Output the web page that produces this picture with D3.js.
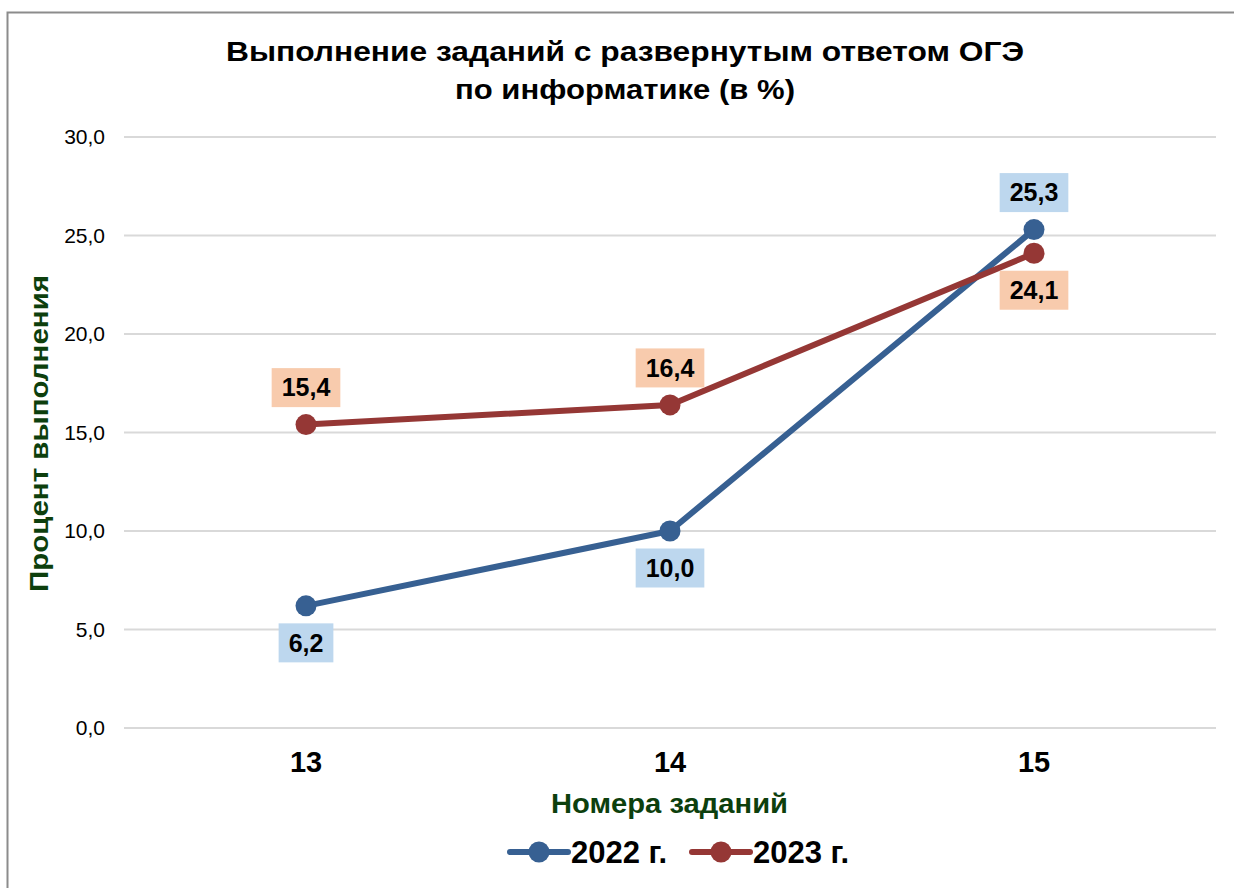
<!DOCTYPE html>
<html><head><meta charset="utf-8">
<script src="https://cdn.jsdelivr.net/npm/d3@7"></script>
<style>body{margin:0;background:#fff}svg{display:block}text{font-family:"Liberation Sans",Arial,sans-serif}</style>
</head><body>
<svg id="c" width="1234" height="888"></svg>
<script>
const categories = ["13","14","15"];
const values2022 = [6.2, 10.0, 25.3];
const values2023 = [15.4, 16.4, 24.1];
const seriesNames = ["2022 г.","2023 г."];
const yTicks = [0,5,10,15,20,25,30];
const titleLines = ["Выполнение заданий с развернутым ответом ОГЭ","по информатике (в %)"];
const yTitle = "Процент выполнения";
const xTitle = "Номера заданий";

const svg = d3.select("#c");
svg.append("rect").attr("x",7.5).attr("y",12.5).attr("width",1240).attr("height",900)
  .attr("fill","#fff").attr("stroke","#8c8c8c").attr("stroke-width",2);

const m = {l:124, r:1216, t:137, b:728};
const x = d3.scaleBand().domain(categories).range([m.l,m.r]);
const y = d3.scaleLinear().domain([0,30]).range([m.b,m.t]);
const cx = d => x(d)+x.bandwidth()/2;

// grid
svg.append("g").selectAll("line").data(yTicks).join("line")
  .attr("x1",m.l).attr("x2",m.r).attr("y1",d=>y(d)).attr("y2",d=>y(d))
  .attr("stroke","#d9d9d9").attr("stroke-width",2);

// y axis labels
const yAxis = d3.axisLeft(y).tickValues(yTicks).tickSize(0).tickPadding(0)
  .tickFormat(d=>d3.format(".1f")(d).replace(".",","));
const gy = svg.append("g").attr("transform",`translate(105,0)`).call(yAxis);
gy.select(".domain").remove();
gy.selectAll("text").attr("font-size",21).attr("fill","#000").attr("font-family","Liberation Sans, Arial, sans-serif");

// x axis labels
const xAxis = d3.axisBottom(x).tickSize(0).tickPadding(0);
const gx = svg.append("g").attr("transform",`translate(0,751)`).call(xAxis);
gx.select(".domain").remove();
gx.selectAll("text").attr("font-size",29).attr("font-weight","bold").attr("fill","#000")
  .attr("dy","0.72em").attr("font-family","Liberation Sans, Arial, sans-serif");

// title
const tw = [798, 340];
titleLines.forEach((l,i)=>svg.append("text").attr("text-anchor","middle").attr("font-size",28)
  .attr("font-weight","bold").attr("x",625).attr("y",61+i*38)
  .attr("textLength",tw[i]).attr("lengthAdjust","spacingAndGlyphs").text(l));

// axis titles
svg.append("text").attr("transform","translate(48,433.5) rotate(-90)").attr("text-anchor","middle")
  .attr("font-size",26).attr("font-weight","bold").attr("fill","#0d3f0d")
  .attr("textLength",317).attr("lengthAdjust","spacingAndGlyphs").text(yTitle);
svg.append("text").attr("x",669.5).attr("y",813).attr("text-anchor","middle")
  .attr("font-size",27).attr("font-weight","bold").attr("fill","#0d3f0d")
  .attr("textLength",237).attr("lengthAdjust","spacingAndGlyphs").text(xTitle);

const series = [
  {name:seriesNames[0], vals:values2022, color:"#376092", bg:"#bdd7ee", pos:[1,1,-1]},
  {name:seriesNames[1], vals:values2023, color:"#953735", bg:"#f8cbad", pos:[-1,-1,1]}
];
const line = d3.line().x(d=>cx(d.c)).y(d=>y(d.v));
series.forEach(s=>{
  const pts = categories.map((c,i)=>({c, v:s.vals[i], p:s.pos[i]}));
  svg.append("path").datum(pts).attr("d",line).attr("fill","none")
    .attr("stroke",s.color).attr("stroke-width",6).attr("stroke-linejoin","round");
  svg.append("g").selectAll("circle").data(pts).join("circle")
    .attr("cx",d=>cx(d.c)).attr("cy",d=>y(d.v)).attr("r",10.5).attr("fill",s.color);
});
series.forEach(s=>{
  const pts = categories.map((c,i)=>({c, v:s.vals[i], p:s.pos[i]}));
  const g = svg.append("g").selectAll("g").data(pts).join("g")
    .attr("transform",d=>`translate(${cx(d.c)},${y(d.v)+d.p*37})`);
  g.append("rect").attr("fill",s.bg).attr("y",-19.5).attr("height",39);
  g.append("text").attr("text-anchor","middle").attr("dy","0.35em").attr("font-size",25)
    .attr("font-weight","bold").attr("fill","#000").text(d=>d3.format(".1f")(d.v).replace(".",","));
  g.each(function(){
    const w = d3.select(this).select("text").node().getComputedTextLength() + 20;
    d3.select(this).select("rect").attr("x",-w/2).attr("width",w);
  });
});

// legend
const leg = [{x0:510, s:series[0]},{x0:692, s:series[1]}];
leg.forEach(l=>{
  const g = svg.append("g").attr("transform",`translate(${l.x0},852)`);
  g.append("line").attr("x1",0).attr("x2",58).attr("stroke",l.s.color).attr("stroke-width",6).attr("stroke-linecap","round");
  g.append("circle").attr("cx",29).attr("r",10.5).attr("fill",l.s.color);
  g.append("text").attr("x",61).attr("y",11).attr("font-size",31).attr("font-weight","bold")
    .attr("textLength",96).attr("lengthAdjust","spacingAndGlyphs").text(l.s.name);
});
</script>
</body></html>
